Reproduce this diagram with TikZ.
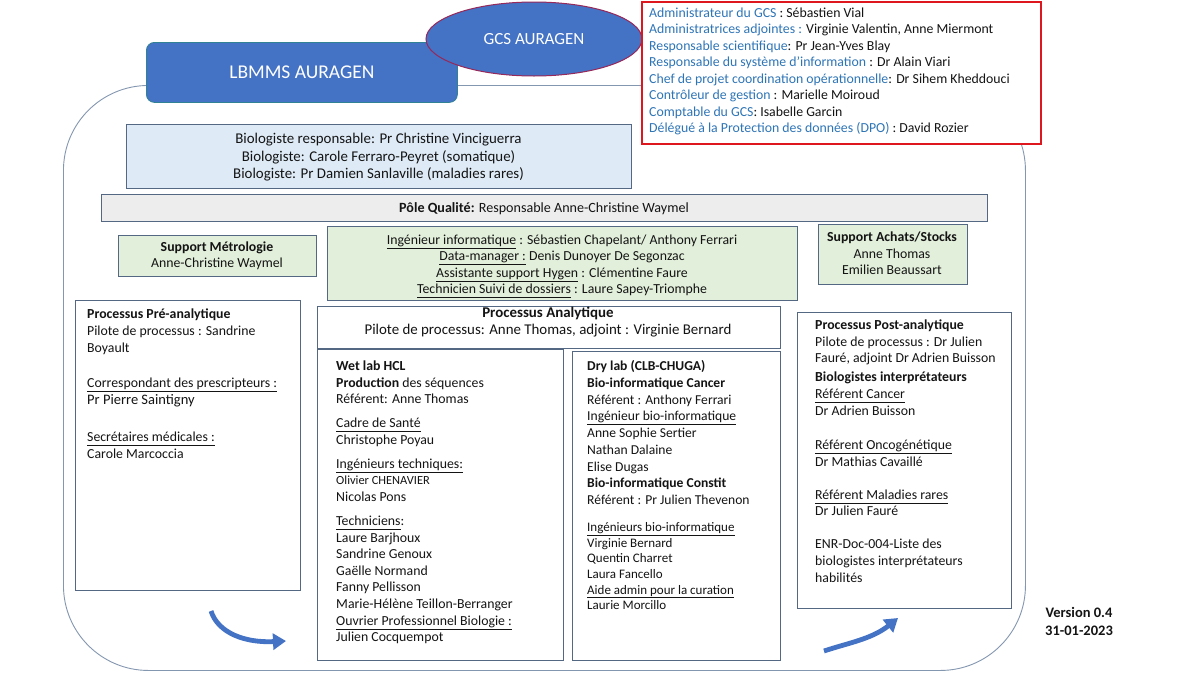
\documentclass[tikz,border=0pt]{standalone}
\usepackage{fontspec}
\setmainfont{Carlito}
\usetikzlibrary{arrows.meta,shapes.geometric}
\definecolor{bluef}{RGB}{68,114,196}
\definecolor{bordc}{RGB}{84,104,132}
\definecolor{contc}{RGB}{132,151,176}
\definecolor{lbluef}{RGB}{222,235,247}
\definecolor{greyf}{RGB}{237,237,237}
\definecolor{greenf}{RGB}{226,239,218}
\definecolor{redb}{RGB}{222,22,30}
\definecolor{lblc}{RGB}{46,117,182}
\definecolor{txtc}{RGB}{20,20,20}
\definecolor{lbmmsb}{RGB}{50,130,150}
\definecolor{gcsb}{RGB}{150,40,90}
\newcommand\myul[1]{\underline{#1\vphantom{gpy}}}
\newcommand\TB[4]{{\fontsize{#1}{#2}\selectfont\begin{tabular}[t]{@{}#3@{}}#4\end{tabular}}}
\newcommand\lb[1]{\textcolor{lblc}{#1}}
\begin{document}
\begin{tikzpicture}[x=1pt,y=-1pt,
  every node/.style={text=txtc},
  bx/.style={draw=bordc, line width=0.8pt, inner sep=0pt, anchor=north west},
  tl/.style={inner sep=0pt, anchor=base west},
  tc/.style={inner sep=0pt, anchor=base},
  flow/.style={draw=bluef, line width=4.8pt, -{Triangle[width=16pt,length=13pt]}}]
\useasboundingbox (0,0) rectangle (1200,675);
\fill[white] (0,0) rectangle (1200,675);

% outer frame
\node[draw=contc, line width=0.9pt, rounded corners=85pt, minimum width=962pt, minimum height=585pt, anchor=north west, inner sep=0pt] (frame) at (63,85) {};

% LBMMS
\node[fill=bluef, draw=lbmmsb, line width=0.8pt, rounded corners=8pt, minimum width=311pt, minimum height=60pt, anchor=north west, inner sep=0pt, text=white, font=\fontsize{19.5}{21}\selectfont] (lbmms) at (146,42) {LBMMS AURAGEN};

% GCS ellipse
\node[ellipse, fill=bluef, draw=gcsb, line width=1pt, minimum width=216pt, minimum height=74pt, inner sep=0pt, text=white, font=\fontsize{17}{18}\selectfont] (gcs) at (534,39) {GCS AURAGEN};

% GCS box
\node[bx, draw=redb, line width=2pt, fill=white, minimum width=399pt, minimum height=142pt] (gcsbox) at (641,1) {};
\node[tl] (gcst) at (649,17.5) {\TB{13.8}{16.45}{l}{%
\lb{Administrateur du GCS} : Sébastien Vial\\
\lb{Administratrices adjointes :} Virginie Valentin, Anne Miermont\\
\lb{Responsable scientifique}: Pr Jean-Yves Blay\\
\lb{Responsable du système d'information} : Dr Alain Viari\\
\lb{Chef de projet coordination opérationnelle}: Dr Sihem Kheddouci\\
\lb{Contrôleur de gestion} : Marielle Moiroud\\
\lb{Comptable du GCS}: Isabelle Garcin\\
\lb{Délégué à la Protection des données (DPO)} : David Rozier}};

% biologistes
\node[bx, fill=lbluef, minimum width=505pt, minimum height=64pt] (bio) at (126,124) {};
\node[tc] (biot) at (378.5,143.5) {\TB{14.9}{17.5}{c}{%
Biologiste responsable: Pr Christine Vinciguerra\\
Biologiste: Carole Ferraro-Peyret (somatique)\\
Biologiste: Pr Damien Sanlaville (maladies rares)}};

% pole qualite
\node[bx, fill=greyf, minimum width=886pt, minimum height=27pt] (pole) at (101,194) {};
\node[tc] (polet) at (544,212.5) {\TB{14.1}{16.5}{c}{\textbf{Pôle Qualité:} Responsable Anne-Christine Waymel}};

% metrologie
\node[bx, fill=greenf, minimum width=198pt, minimum height=41pt] (metro) at (118,235) {};
\node[tc] (metrot) at (217,251.5) {\TB{13.8}{16}{c}{\textbf{Support Métrologie}\\Anne-Christine Waymel}};

% informatique
\node[bx, fill=greenf, minimum width=470pt, minimum height=74pt] (info) at (327,226) {};
\node[tc] (infot) at (562,244.5) {\TB{13.8}{16.3}{c}{%
\myul{Ingénieur informatique} : Sébastien Chapelant/ Anthony Ferrari\\
\myul{Data-manager :} Denis Dunoyer De Segonzac\\
\myul{Assistante support Hygen} : Clémentine Faure\\
\myul{Technicien Suivi de dossiers} : Laure Sapey-Triomphe}};

% achats
\node[bx, fill=greenf, minimum width=149pt, minimum height=60pt] (achats) at (818,224) {};
\node[tc] (achatst) at (892,241.5) {\TB{13.8}{16.5}{c}{\textbf{Support Achats/Stocks}\\Anne Thomas\\Emilien Beaussart}};

% pre-analytique
\node[bx, fill=white, minimum width=225pt, minimum height=290pt] (pre) at (75,300) {};
\node[tl] (pret) at (87,318.5) {\TB{13.8}{17}{l}{%
\textbf{Processus Pré-analytique}\\
Pilote de processus : Sandrine\\
Boyault\\[18pt]
\myul{Correspondant des prescripteurs :}\\
{\fontsize{14.5}{17}\selectfont Pr Pierre Saintigny}\\[20pt]
\myul{Secrétaires médicales :}\\
Carole Marcoccia}};

% analytique header
\node[bx, fill=white, minimum width=463pt, minimum height=42pt] (ana) at (317,306) {};
\node[tc] (anat) at (548,317.5) {\TB{14.9}{17}{c}{%
\textbf{Processus Analytique}\\
Pilote de processus: Anne Thomas, adjoint : Virginie Bernard}};

% wet lab
\node[bx, fill=white, minimum width=246pt, minimum height=311pt] (wet) at (317,349) {};
\node[tl] (wett) at (336,370.5) {\TB{13.8}{16.6}{l}{%
\textbf{Wet lab HCL}\\
\textbf{Production} des séquences\\
Référent: Anne Thomas\\[7.4pt]
\myul{Cadre de Santé}\\
Christophe Poyau\\[7.4pt]
\myul{Ingénieurs techniques:}\\
{\fontsize{12.4}{13}\selectfont Olivier CHENAVIER}\\
Nicolas Pons\\[7.4pt]
\myul{Techniciens}:\\
Laure Barjhoux\\
Sandrine Genoux\\
Gaëlle Normand\\
Fanny Pellisson\\
Marie-Hélène Teillon-Berranger\\
\myul{Ouvrier Professionnel Biologie :}\\
Julien Cocquempot}};

% dry lab
\node[bx, fill=white, minimum width=208pt, minimum height=309pt] (dry) at (572,351) {};
\node[tl] (dryt) at (587,370.5) {\TB{13.6}{16.75}{l}{%
\textbf{Dry lab (CLB-CHUGA)}\\
\textbf{Bio-informatique Cancer}\\
Référent : Anthony Ferrari\\
\myul{Ingénieur  bio-informatique}\\
Anne Sophie Sertier\\
Nathan Dalaine\\
Elise Dugas\\
\textbf{Bio-informatique Constit}\\
Référent : Pr Julien  Thevenon\\[10.2pt]
{\fontsize{13}{15}\selectfont\myul{Ingénieurs  bio-informatique}}\\[-1.1pt]
{\fontsize{13}{15}\selectfont Virginie Bernard}\\[-1.1pt]
{\fontsize{13}{15}\selectfont Quentin Charret}\\[-1.1pt]
{\fontsize{13}{15}\selectfont Laura Fancello}\\[-1.1pt]
{\fontsize{13}{15}\selectfont\myul{Aide admin pour la curation}}\\[-1.1pt]
{\fontsize{13}{15}\selectfont Laurie Morcillo}}};

% post-analytique
\node[bx, fill=white, minimum width=214pt, minimum height=296pt] (post) at (797,312) {};
\node[tl] (postt) at (815,329.5) {\TB{13.8}{16.7}{l}{%
\textbf{Processus Post-analytique}\\
Pilote de processus : Dr Julien\\
Fauré, adjoint Dr Adrien Buisson\\[2.3pt]
\textbf{Biologistes interprétateurs}\\
\myul{Référent Cancer}\\
Dr Adrien Buisson\\[17.3pt]
\myul{Référent Oncogénétique}\\
Dr Mathias Cavaillé\\[16.3pt]
\myul{Référent Maladies rares}\\
Dr Julien Fauré\\[16.3pt]
ENR-Doc-004-Liste des\\
biologistes interprétateurs\\
habilités}};

% version
\node[tc] (ver) at (1079,617.5) {\TB{14.5}{18}{c}{\textbf{Version 0.4}\\\textbf{31-01-2023}}};

% flow arrows
\coordinate (a1s) at (211,611);
\coordinate (a1e) at (286,641);
\draw[flow] (a1s) .. controls (218,633) and (245,643) .. (a1e);
\coordinate (a2s) at (824,651);
\coordinate (a2e) at (898,618);
\draw[flow] (a2s) .. controls (848,643) and (872,639) .. (a2e);
\end{tikzpicture}
\end{document}
